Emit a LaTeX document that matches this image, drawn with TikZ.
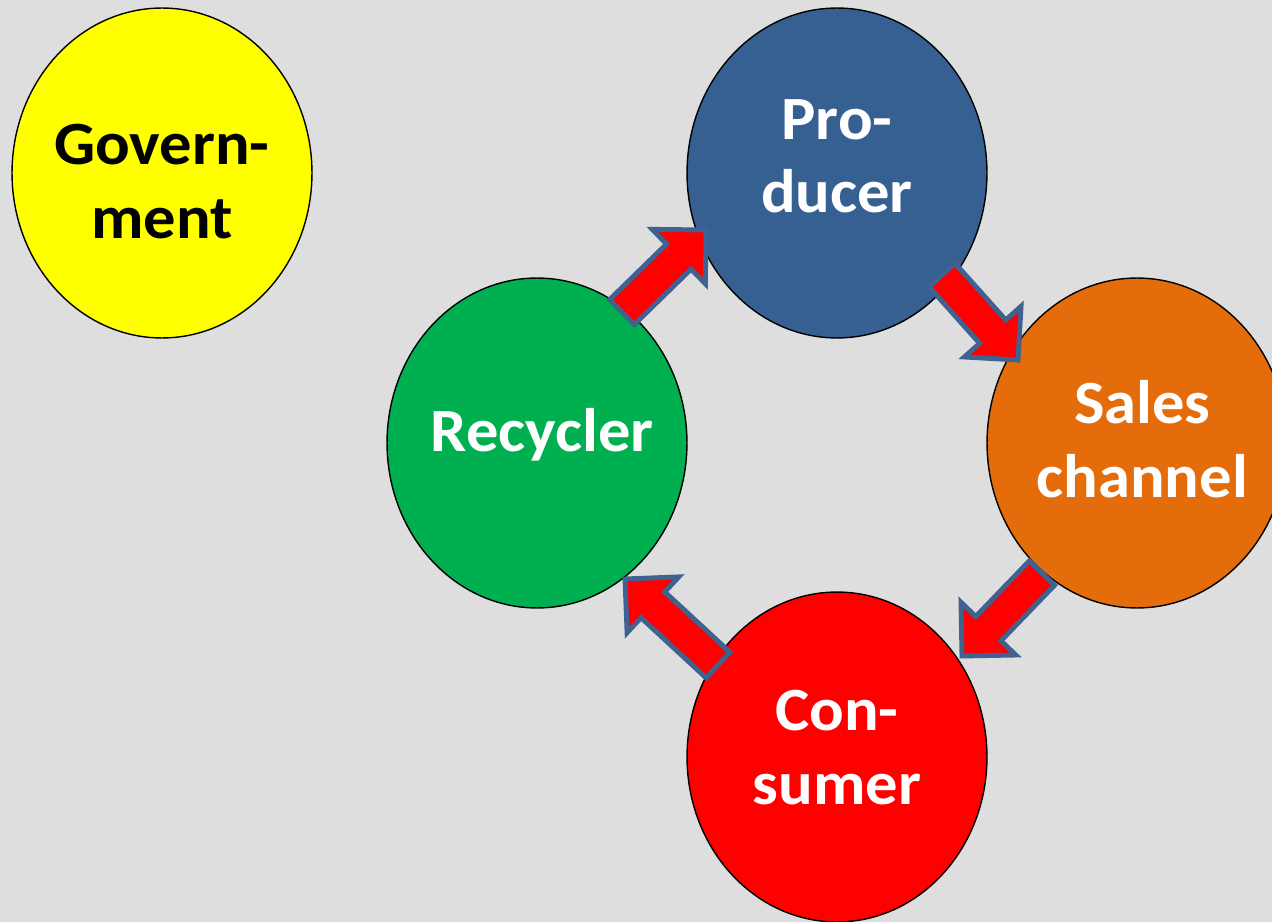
\documentclass[tikz,border=0pt]{standalone}
\usepackage{fontspec}
\setmainfont{Carlito}[FakeStretch=1.05]
\usepackage{tikz}
\usetikzlibrary{calc,shapes.geometric}

\definecolor{bgGray}{HTML}{DEDEDE}
\definecolor{govYellow}{HTML}{FFFF00}
\definecolor{prodBlue}{HTML}{376092}
\definecolor{salesOrange}{HTML}{E46C0A}
\definecolor{recGreen}{HTML}{00B050}
\definecolor{consRed}{HTML}{FF0000}
\definecolor{flowEdge}{HTML}{3F6290}

\tikzset{
  actor/.style={ellipse,draw=black,line width=0.8pt,minimum width=6cm,minimum height=6.6cm,inner sep=0pt},
  caption/.style={align=center,text=white,inner sep=0pt,font=\fontsize{35}{42}\selectfont\bfseries},
  flow/.style={fill=consRed,draw=flowEdge,line width=2.8pt,line join=miter}
}

% block arrow from #1 (tail) to #2 (tip)
\newcommand{\flowarrow}[2]{%
  \coordinate (neck) at ($(#2)!0.76cm!(#1)$);
  \draw[flow] ($(#1)!0.35cm!-90:(#2)$) -- ($(neck)!0.35cm!-90:(#2)$) -- ($(neck)!0.76cm!-90:(#2)$)
    -- (#2) -- ($(neck)!0.76cm!90:(#2)$) -- ($(neck)!0.35cm!90:(#2)$) -- ($(#1)!0.35cm!90:(#2)$) -- cycle;
}

\begin{document}
\begin{tikzpicture}[x=0.02cm,y=-0.02cm]
\fill[bgGray] (0,0) rectangle (1272,922);
\useasboundingbox (0,0) rectangle (1272,922);

\node (gov) at (162,173)[actor,fill=govYellow,label={[caption,text=black,yshift=-5pt]center:{Govern-\\ment}}] {};
\node (prod) at (837,173)[actor,fill=prodBlue,label={[caption,yshift=9.5pt]center:{Pro-\\ducer}}] {};
\node (sales) at (1137,443)[actor,fill=salesOrange,label={[caption,xshift=3pt,yshift=2pt]center:{Sales\\channel}}] {};
\node (rec) at (537,443)[actor,fill=recGreen,label={[caption,xshift=3pt,yshift=4.5pt]center:{Recycler}}] {};
\node (cons) at (837,757)[actor,fill=consRed,label={[caption,yshift=5.5pt]center:{Con-\\sumer}}] {};

\coordinate (recOut) at (622,312);
\coordinate (prodIn) at (706,230);
\coordinate (prodOut) at (942,275);
\coordinate (salesIn) at (1018,360);
\coordinate (salesOut) at (1042,573);
\coordinate (consIn) at (962,656);
\coordinate (consOut) at (718,665);
\coordinate (recIn) at (625,579);

\flowarrow{recOut}{prodIn}
\flowarrow{prodOut}{salesIn}
\flowarrow{salesOut}{consIn}
\flowarrow{consOut}{recIn}

\end{tikzpicture}
\end{document}
